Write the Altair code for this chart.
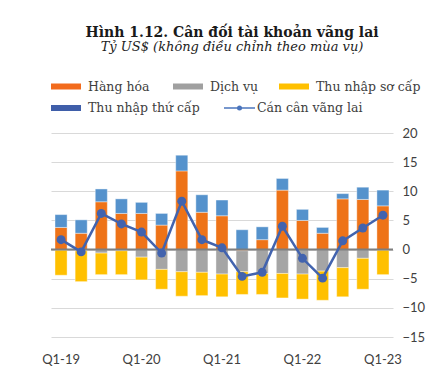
import altair as alt
import pandas as pd

quarters = ["Q1-19", "Q2-19", "Q3-19", "Q4-19", "Q1-20", "Q2-20", "Q3-20", "Q4-20",
            "Q1-21", "Q2-21", "Q3-21", "Q4-21", "Q1-22", "Q2-22", "Q3-22", "Q4-22", "Q1-23"]
goods = [3.8, 2.8, 8.2, 6.2, 6.2, 4.2, 13.5, 6.4, 5.8, -0.2, 1.7, 10.2, 5.0, 2.8, 8.7, 8.6, 7.5]
services = [-0.1, -0.2, -0.6, -0.2, -1.3, -3.4, -3.8, -3.9, -4.2, -3.6, -4.1, -4.1, -4.2, -3.7, -3.1, -1.5, -0.1]
primary = [-4.3, -5.3, -3.7, -4.1, -3.9, -3.4, -4.2, -4.0, -3.9, -3.9, -3.6, -4.2, -4.3, -5.0, -5.0, -5.3, -4.2]
secondary = [2.2, 2.3, 2.2, 2.5, 1.9, 2.0, 2.7, 3.0, 2.7, 3.4, 2.2, 2.0, 1.9, 1.0, 0.9, 2.1, 2.7]
balance = [1.7, -0.4, 6.2, 4.4, 3.0, -0.6, 8.3, 1.7, 0.3, -4.6, -3.9, 4.0, -1.5, -4.9, 1.5, 3.7, 5.9]

series_names = ["Hàng hóa", "Dịch vụ", "Thu nhập sơ cấp", "Thu nhập thứ cấp"]
series_colors = ["#EE7318", "#A5A5A5", "#FFC000", "#5592CC"]
line_name = "Cán cân vãng lai"
title_text = "Hình 1.12. Cân đối tài khoản vãng lai"
subtitle_text = "Tỷ US$ (không điều chỉnh theo mùa vụ)"
y_ticks = [-15, -10, -5, 0, 5, 10, 15, 20]

rows = []
for i, q in enumerate(quarters):
    for k, (name, vals) in enumerate(zip(series_names, [goods, services, primary, secondary])):
        rows.append({"q": q, "series": name, "order": k, "value": vals[i]})
bars_df = pd.DataFrame(rows)
line_df = pd.DataFrame({"q": quarters, "value": balance})

xaxis = alt.Axis(labelExpr="indexof(datum.label, 'Q1') == 0 ? datum.label : ''",
                 ticks=False, domain=False, labelAngle=0, labelPadding=16, grid=False,
                 labelFont="Lato", labelFontSize=13, labelColor="#404040", title=None)
xscale = alt.Scale(domain=quarters, paddingInner=0.4, paddingOuter=0.2)
yaxis = alt.Axis(orient="right", values=y_ticks, grid=True, gridColor="#D9D9D9",
                 domain=False, ticks=False, labelPadding=9, labelAlign="left",
                 labelOverlap=False, labelBound=False, title=None,
                 labelFont="Lato", labelFontSize=13, labelColor="#404040")
yscale = alt.Scale(domain=[-15, 20], nice=False, zero=False)

bars = alt.Chart(bars_df).mark_bar(stroke="white", strokeWidth=0.4).encode(
    x=alt.X("q:N", scale=xscale, axis=xaxis, title=None),
    y=alt.Y("value:Q", scale=yscale, stack="zero", axis=yaxis, title=None),
    color=alt.Color("series:N", scale=alt.Scale(domain=series_names, range=series_colors), legend=None),
    order=alt.Order("order:Q"),
)

zero = alt.Chart(pd.DataFrame({"value": [0]})).mark_rule(color="#7F7F7F", strokeWidth=2).encode(
    y=alt.Y("value:Q", scale=yscale, axis=yaxis, title=None))

line = alt.Chart(line_df).mark_line(color="#4263AE", strokeWidth=2.5,
                                     point=alt.OverlayMarkDef(color="#4263AE", size=80, filled=True, opacity=1)).encode(
    x=alt.X("q:N", scale=xscale, axis=xaxis, title=None),
    y=alt.Y("value:Q", scale=yscale, axis=yaxis, title=None),
)

# titles
title = alt.Chart(pd.DataFrame({"t": [title_text]})).mark_text(
    font="DejaVu Serif", fontWeight="bold", fontSize=14, color="#1A1A1A", align="center", baseline="alphabetic"
).encode(text="t:N", x=alt.value(181), y=alt.value(-96))
subtitle = alt.Chart(pd.DataFrame({"t": [subtitle_text]})).mark_text(
    font="DejaVu Serif", fontStyle="italic", fontSize=13, color="#222222", align="center", baseline="alphabetic"
).encode(text="t:N", x=alt.value(181), y=alt.value(-82))

# manual legend
leg_swatch_colors = ["#F26B1D", "#A0A0A0", "#FFC000", "#3F5EA9"]
leg_x = [0, 122, 228, 0]
leg_y = [-46.5, -46.5, -46.5, -25]
swatches = []
for name, c, lx, ly in zip(series_names, leg_swatch_colors, leg_x, leg_y):
    d = pd.DataFrame({"t": [name]})
    swatches.append(alt.Chart(d).mark_rect(color=c).encode(
        x=alt.value(lx), x2=alt.value(lx + 30), y=alt.value(ly - 3), y2=alt.value(ly + 3)))
    swatches.append(alt.Chart(d).mark_text(font="DejaVu Serif", fontSize=12.5, color="#404040",
                                           align="left", baseline="middle").encode(
        text="t:N", x=alt.value(lx + 37), y=alt.value(ly)))
ld = pd.DataFrame({"t": [line_name]})
swatches.append(alt.Chart(ld).mark_rule(color="#4A74BC", strokeWidth=1.5).encode(
    x=alt.value(173), x2=alt.value(204), y=alt.value(-25)))
swatches.append(alt.Chart(ld).mark_point(color="#4A74BC", filled=True, opacity=1, size=25).encode(
    x=alt.value(188.5), y=alt.value(-25)))
swatches.append(alt.Chart(ld).mark_text(font="DejaVu Serif", fontSize=12.5, color="#404040",
                                        align="left", baseline="middle").encode(
    text="t:N", x=alt.value(206), y=alt.value(-25)))

chart = alt.layer(bars, zero, line, title, subtitle, *swatches).properties(
    width=342, height=204,
    autosize=alt.AutoSizeParams(type="none"),
    padding={"left": 43, "top": 125, "right": 40, "bottom": 36},
    background="white",
).configure_view(stroke=None)

chart.save("out.html", embed_options={"renderer": "svg", "actions": False})
